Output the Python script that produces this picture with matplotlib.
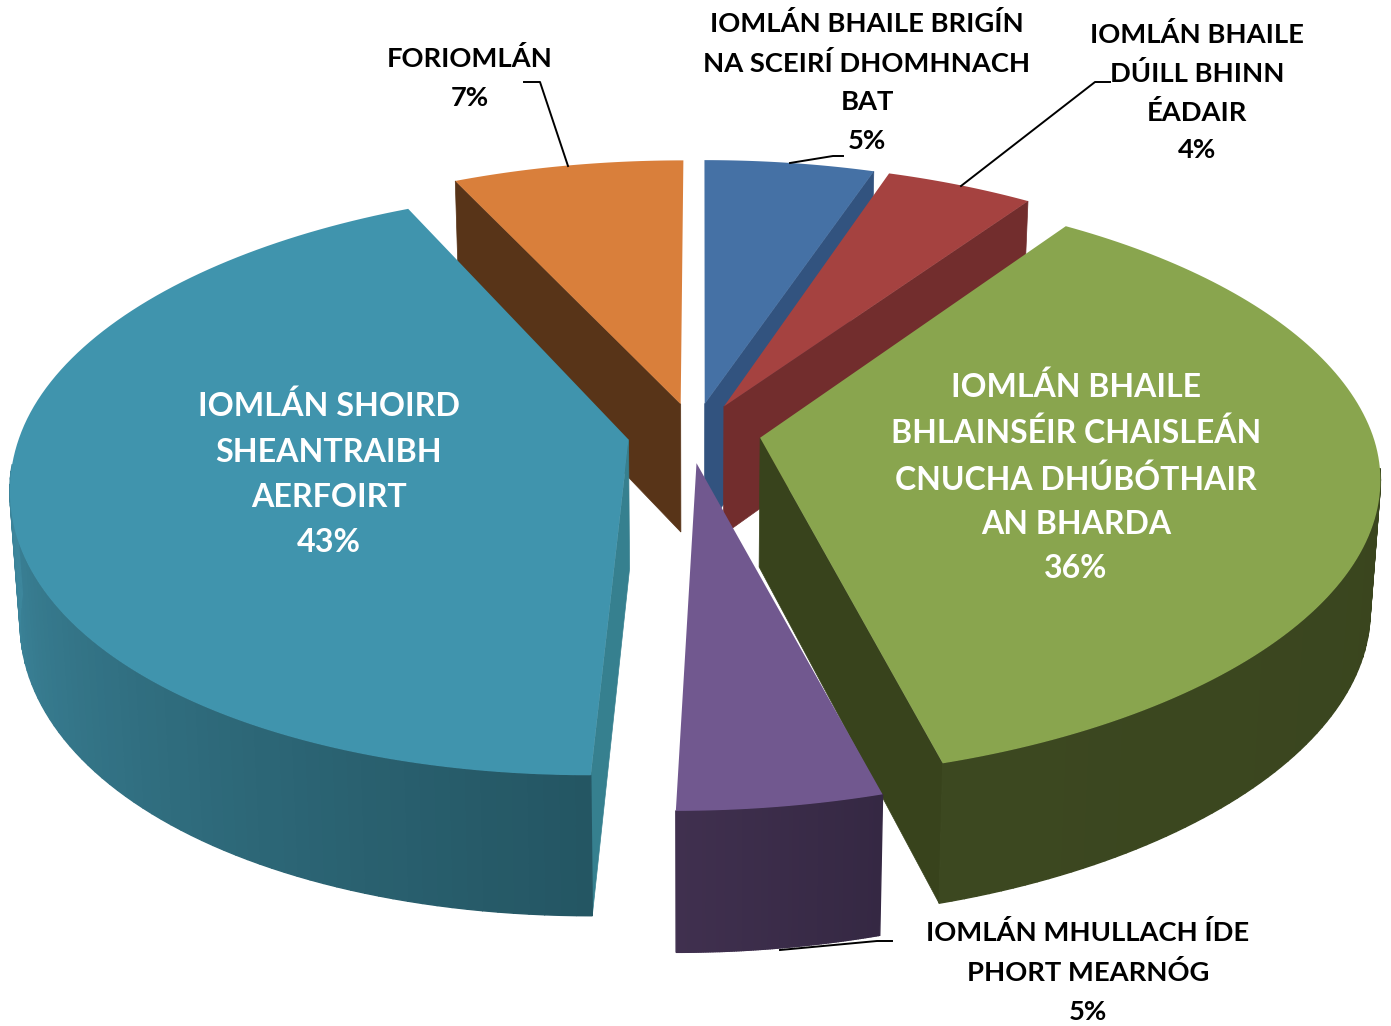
import numpy as np
import matplotlib
matplotlib.use('Agg')
import matplotlib.pyplot as plt

plt.rcParams['font.family'] = ['Lato', 'DejaVu Sans']

# Slice data, clockwise from 12 o'clock
categories = ['IOMLÁN BHAILE BRIGÍN\nNA SCEIRÍ DHOMHNACH\nBAT',
              'IOMLÁN BHAILE\nDÚILL BHINN\nÉADAIR',
              'IOMLÁN BHAILE\nBHLAINSÉIR CHAISLEÁN\nCNUCHA DHÚBÓTHAIR\nAN BHARDA',
              'IOMLÁN MHULLACH ÍDE\nPHORT MEARNÓG',
              'IOMLÁN SHOIRD\nSHEANTRAIBH\nAERFOIRT',
              'FORIOMLÁN']
# the labels are rounded, the slices are not quite
values = [5.15, 4.48, 35.8, 4.57, 43.0, 7.0]
percent_labels = ['5%', '4%', '36%', '5%', '43%', '7%']

# top, side wall, rim gradient start, rim gradient end
top_colors = ['#4571a5', '#a54240', '#89a54e', '#71588f', '#4094ad', '#d97f3b']
wall_colors = ['#32537f', '#722d2d', '#38431c', '#3a2c4e', '#36808f', '#583418']
rim_from = ['#4571a5', '#a54240', '#37421c', '#352843', '#245663', '#d97f3b']
rim_to = ['#4571a5', '#a54240', '#3c4820', '#40304f', '#3f8ba2', '#d97f3b']
rim_span = [1, 1, 1, 1, 0.6, 1]
# which flat wall shows: 0 = start edge, -1 = end edge, None = neither
wall_side = [-1, -1, -1, None, 0, 0]

# small per slice corrections of the drawn shape
apex_dx = [0, 1, 2, -7, -3, 0]
rim_dx = [1, 0, 2, 7, 1, 1]
front_stretch = [1, 1, 1.02, 1.01, 1, 1]

# text positions: x, y of block centre, text colour
label_x = [867, 1197, 1076, 1088, 329, 470]
label_y = [82, 92, 477, 972, 474, 78]
label_color = ['black', 'black', 'white', 'black', 'white', 'black']
label_size = [19.7, 19.7, 23, 19.7, 23.2, 19.7]
label_spacing = [1.71, 1.66, 1.63, 1.71, 1.675, 1.71]

# leader lines
leaders = [([790, 833, 843], [163, 156, 156]),
           ([961, 1095, 1110], [186, 82, 82]),
           ([780, 877, 892], [950, 941, 941]),
           ([568, 540, 524], [166, 82, 82])]

# projection of the pie disc
cx, cy = 694.5, 433
fx, gy = 612, 286
k = 0.142
skew = 30
explode = 0.105
depth = 129
bottom_scale = 0.985


def project(X, Y):
    w = 1 + k * Y
    px = cx + fx * X / w - skew * np.where(Y < 0, Y * Y, 0)
    py = cy - gy * Y / w
    return px, py


def to_bottom(px, py, Y):
    return cx + bottom_scale * (px - cx), py + depth / (1 + 0.08 * Y)


def mix(c1, c2, t):
    a = np.array(matplotlib.colors.to_rgb(c1))
    b = np.array(matplotlib.colors.to_rgb(c2))
    return a + (b - a) * min(t, 1)


fig = plt.figure(figsize=(13.91, 10.26), dpi=100)
ax = fig.add_axes([0, 0, 1, 1])
ax.set_xlim(0, 1391)
ax.set_ylim(1026, 0)
ax.axis('off')

fractions = np.array(values) / sum(values)
ends = np.cumsum(fractions) * 2 * np.pi
starts = ends - fractions * 2 * np.pi

# paint back slices first
order = [5, 0, 1, 2, 3, 4]
for z, i in enumerate(order):
    t0, t1 = starts[i], ends[i]
    mid = (t0 + t1) / 2
    ox, oy = explode * np.sin(mid), explode * np.cos(mid)
    t = np.linspace(t0, t1, 121)
    X = ox + np.sin(t)
    Y = oy + np.cos(t)
    rx, ry = project(X, Y)
    apx, apy = project(np.array([ox]), np.array([oy]))
    rx = rx + rim_dx[i]
    apx = apx + apex_dx[i]
    ry = np.where(ry > apy[0], apy[0] + (ry - apy[0]) * front_stretch[i], ry)
    bx, by = to_bottom(rx, ry, Y)
    abx, aby = to_bottom(apx, apy, np.array([oy]))

    # flat side wall
    if wall_side[i] is not None:
        j = wall_side[i]
        ax.fill([apx[0], rx[j], bx[j], abx[0]], [apy[0], ry[j], by[j], aby[0]],
                color=wall_colors[i], lw=0.5, zorder=z * 3 + 1)
    # outer rim, only where it faces the viewer
    for j in range(len(t) - 1):
        if np.cos(t[j]) < -0.1:
            c = mix(rim_from[i], rim_to[i], j / (len(t) - 2) / rim_span[i])
            ax.fill([rx[j], rx[j + 1], bx[j + 1], bx[j]],
                    [ry[j], ry[j + 1], by[j + 1], by[j]],
                    color=c, lw=1, zorder=z * 3 + 1)
    ax.fill(np.r_[apx, rx], np.r_[apy, ry], color=top_colors[i], lw=0, zorder=z * 3 + 2)

for lx, ly in leaders:
    ax.plot(lx, ly, color='black', lw=1.4, zorder=30)

for i in range(len(values)):
    ax.text(label_x[i], label_y[i], categories[i] + '\n' + percent_labels[i],
            ha='center', va='center', color=label_color[i], fontweight='bold',
            fontsize=label_size[i], linespacing=label_spacing[i], zorder=31)

fig.savefig('out.png', dpi=100)
